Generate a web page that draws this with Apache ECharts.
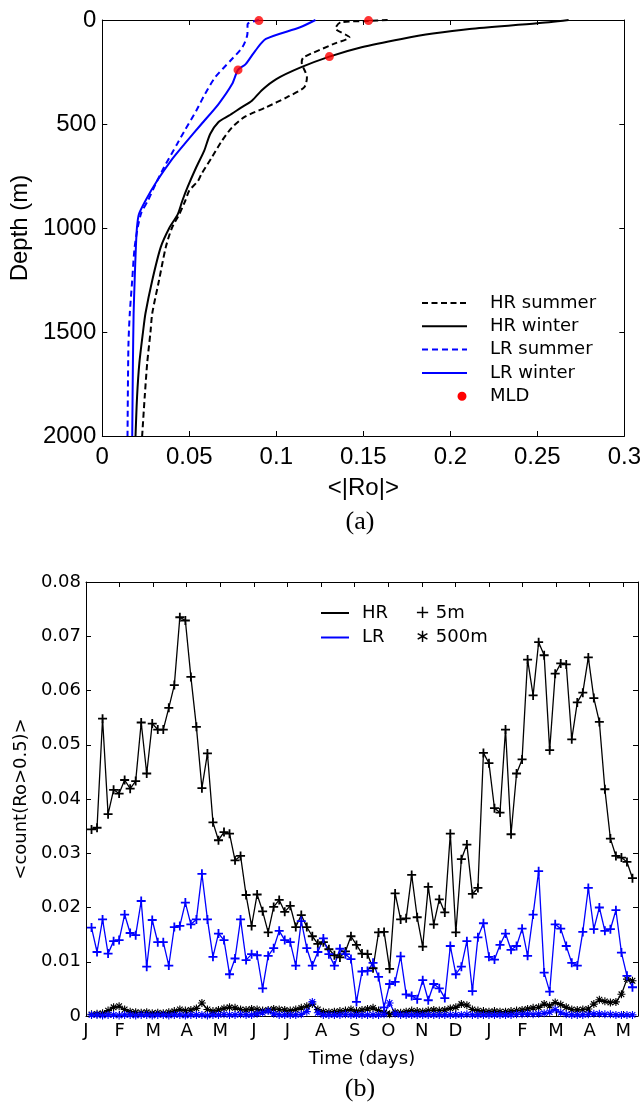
<!DOCTYPE html>
<html>
<head>
<meta charset="utf-8">
<script src="https://cdn.jsdelivr.net/npm/echarts@6/dist/echarts.min.js"></script>
<style>
  html, body { margin: 0; padding: 0; background: #fff; }
  #chart { width: 644px; height: 1112px; }
</style>
</head>
<body>
<div id="chart"></div>
<script>
// ---------- (a) vertical profiles of <|Ro|>: [Ro, depth (m)] ----------
const hrSummer = [[0.164,0],[0.153,5],[0.137,11],[0.134,40],[0.142,83],[0.133,115],[0.1156,180],[0.1146,203],[0.1176,276],[0.116,324],[0.106,372],[0.094,420],[0.082,465],[0.0746,516],[0.0688,580],[0.063,660],[0.057,740],[0.055,774],[0.05,820],[0.0477,869],[0.0443,933],[0.04,1000],[0.0365,1092],[0.0326,1252],[0.0287,1411],[0.0277,1500],[0.0258,1650],[0.0244,1809],[0.0229,2000]];
const hrWinter = [[0.268,0],[0.25,16],[0.211,43],[0.19,65],[0.172,91],[0.149,131],[0.1305,176],[0.114,228],[0.1,284],[0.092,335],[0.086,388],[0.08,420],[0.0727,460],[0.0668,490],[0.062,548],[0.0586,628],[0.054,708],[0.049,804],[0.046,869],[0.0434,933],[0.0385,1000],[0.0336,1092],[0.0287,1252],[0.0248,1411],[0.0234,1500],[0.0213,1650],[0.02,1809],[0.0191,2000]];
const lrSummer = [[0.09,0],[0.0835,20],[0.0834,67],[0.0805,131],[0.0736,196],[0.0648,276],[0.059,356],[0.054,436],[0.0473,532],[0.043,596],[0.0355,708],[0.0307,788],[0.0262,869],[0.0225,925],[0.0203,1000],[0.0185,1100],[0.0172,1250],[0.0158,1411],[0.015,1570],[0.0145,2000]];
const lrWinter = [[0.1225,0],[0.1137,35],[0.094,91],[0.088,147],[0.0824,212],[0.078,240],[0.0746,308],[0.0668,404],[0.057,500],[0.0473,596],[0.0395,676],[0.0316,772],[0.0248,869],[0.021,935],[0.0199,1000],[0.0193,1092],[0.0186,1252],[0.018,1411],[0.0176,1650],[0.0172,2000]];
const mixedLayerDepth = [[0.09,3],[0.153,3],[0.078,240],[0.1305,176]];

const roTicks = { min: 0, max: 0.3, interval: 0.05 };
const depthTicks = { min: 0, max: 2000, interval: 500 };

// ---------- (b) time series of <count(Ro>0.5)> ----------
const days = [5,10,15,20,25,30,35,40,45,50,55,60,65,70,75,80,85,90,95,100,105,110,115,120,125,130,135,140,145,150,155,160,165,170,175,180,185,190,195,200,205,210,215,220,225,230,235,240,245,250,255,260,265,270,275,280,285,290,295,300,305,310,315,320,325,330,335,340,345,350,355,360,365,370,375,380,385,390,395,400,405,410,415,420,425,430,435,440,445,450,455,460,465,470,475,480,485,490,495];
const hr5m = [0.0344,0.0347,0.0548,0.0372,0.0417,0.041,0.0435,0.0419,0.0433,0.0541,
  0.0447,0.0539,0.0528,0.0528,0.0568,0.061,0.0735,0.0729,0.0625,0.0533,
  0.042,0.0484,0.0357,0.0324,0.0339,0.0336,0.0287,0.0295,0.0223,0.0166,
  0.0224,0.0193,0.0154,0.0201,0.0214,0.0192,0.0203,0.0164,0.0186,0.0164,
  0.0147,0.0133,0.0136,0.0123,0.0112,0.0108,0.0119,0.0147,0.0131,0.0115,
  0.0114,0.0088,0.0154,0.0155,0.0087,0.0226,0.0178,0.018,0.026,0.0182,
  0.0128,0.0238,0.0169,0.0215,0.0191,0.0336,0.0154,0.0289,0.0316,0.0225,
  0.0236,0.0485,0.0466,0.0383,0.0375,0.0528,0.0335,0.0447,0.0473,0.0657,
  0.0591,0.0689,0.0665,0.049,0.0631,0.065,0.0648,0.051,0.0578,0.0596,
  0.0661,0.0586,0.0542,0.0418,0.0327,0.0295,0.0292,0.0284,0.0254];
const lr5m = [0.0163,0.0118,0.0178,0.0115,0.0138,0.014,0.0187,0.0153,0.0149,0.0212,
  0.0091,0.0177,0.0136,0.0136,0.0093,0.0164,0.0166,0.0209,0.0169,0.0178,
  0.0262,0.0178,0.0109,0.0152,0.014,0.0077,0.0106,0.0178,0.0103,0.0114,
  0.0112,0.0051,0.0111,0.0125,0.0157,0.014,0.0136,0.0093,0.0175,0.0125,
  0.0093,0.0118,0.0143,0.0114,0.0093,0.0124,0.0114,0.0105,0.0026,0.0082,
  0.0083,0.0098,0.0072,0.0016,0.0059,0.0063,0.011,0.004,0.0037,0.0031,
  0.0066,0.0029,0.0059,0.0051,0.0033,0.0129,0.0077,0.0091,0.0138,0.0046,
  0.0145,0.0171,0.0109,0.0104,0.0131,0.0152,0.0122,0.0129,0.0161,0.0111,
  0.0187,0.0267,0.008,0.0045,0.0169,0.0161,0.0129,0.0098,0.0093,0.0155,
  0.0236,0.016,0.02,0.0157,0.016,0.0195,0.0117,0.0074,0.0053];
const hr500m = [0.0003,0.0004,0.0005,0.001,0.0016,0.0018,0.0012,0.0008,0.0007,0.0006,
  0.0007,0.0005,0.0006,0.0005,0.0007,0.0009,0.0012,0.001,0.0011,0.0014,
  0.0024,0.0012,0.0009,0.0011,0.0014,0.0016,0.0015,0.0012,0.0011,0.0013,
  0.0012,0.001,0.0011,0.0013,0.0012,0.0011,0.001,0.0012,0.0015,0.0018,
  0.0022,0.0012,0.0008,0.0007,0.0008,0.0009,0.001,0.0012,0.0009,0.0011,
  0.0013,0.0015,0.001,0.0006,0.0003,0.0007,0.0006,0.0008,0.001,0.0009,
  0.0008,0.001,0.0011,0.001,0.0011,0.0014,0.0016,0.0022,0.002,0.0012,
  0.001,0.0009,0.0008,0.0009,0.0008,0.0008,0.0009,0.001,0.0011,0.0013,
  0.0015,0.0016,0.0022,0.0019,0.0025,0.0021,0.0016,0.0012,0.0011,0.0012,
  0.0013,0.0022,0.003,0.0027,0.0025,0.0026,0.004,0.0068,0.0065];
const lr500m = [0.0002,0.0002,0.0001,0.0002,0.0002,0.0001,0.0002,0.0002,0.0001,0.0002,
  0.0002,0.0001,0.0002,0.0002,0.0001,0.0002,0.0002,0.0001,0.0002,0.0002,
  0.0002,0.0001,0.0002,0.0002,0.0003,0.0002,0.0002,0.0003,0.0002,0.0002,
  0.0004,0.0006,0.0009,0.0004,0.0002,0.0002,0.0002,0.0002,0.0003,0.0008,
  0.0026,0.0006,0.0002,0.0002,0.0002,0.0002,0.0003,0.0002,0.0002,0.0002,
  0.0002,0.0002,0.0002,0.0003,0.0024,0.0004,0.0002,0.0002,0.0002,0.0002,
  0.0002,0.0002,0.0002,0.0002,0.0002,0.0002,0.0002,0.0002,0.0003,0.0002,
  0.0002,0.0002,0.0002,0.0002,0.0002,0.0002,0.0002,0.0003,0.0003,0.0004,
  0.0003,0.0004,0.0005,0.0007,0.0012,0.0006,0.0003,0.0002,0.0002,0.0002,
  0.0003,0.0004,0.0004,0.0003,0.0003,0.0002,0.0002,0.0002,0.0002];
const monthLabels = ['J','F','M','A','M','J','J','A','S','O','N','D','J','F','M','A','M'];
const countTicks = { min: 0, max: 0.08, interval: 0.01 };
const MONTH_DAYS = 365 / 12;

// ---------- styling ----------
const SANS = '"Liberation Sans", Arial, Helvetica, sans-serif';
const DEJAVU = '"DejaVu Sans", sans-serif';
const BLACK = '#000000', BLUE = '#0000ff', RED = '#ff0000';

const PLUS = 'path://M-1,-5L1,-5L1,-1L5,-1L5,1L1,1L1,5L-1,5L-1,1L-5,1L-5,-1L-1,-1Z';
const STAR = 'path://M-0.7,-5L0.7,-5L0.7,-0.7L5,-0.7L5,0.7L0.7,0.7L0.7,5L-0.7,5L-0.7,0.7L-5,0.7L-5,-0.7L-0.7,-0.7Z' +
             'M-4,-3L-3,-4L4,3L3,4Z M3,-4L4,-3L-3,4L-4,3Z';
// legend marker: a small dot at the right end of a 45x14 icon box (tiny corner specks fix the box)
const DOT_ICON = 'path://M0,0L0.01,0L0,0.01Z M45,14L44.99,14L45,13.99Z M35.5,7A4.5,4.5,0,1,1,44.5,7A4.5,4.5,0,1,1,35.5,7Z';

const frameLine = { show: true, onZero: false, lineStyle: { color: BLACK, width: 1 } };
const innerTick = { show: true, inside: true, length: 5, lineStyle: { color: BLACK, width: 1 } };
const plain = v => String(v);

function mirror(axis, extra) {
  return Object.assign({
    type: 'value', axisLine: frameLine, axisTick: innerTick,
    axisLabel: { show: false }, splitLine: { show: false }
  }, axis, extra);
}

const pairs = (xs, ys) => xs.map((x, i) => [x, ys[i]]);

const option = {
  animation: false,
  backgroundColor: '#ffffff',
  grid: [
    { left: 97, top: 20, width: 528, height: 416 },
    { left: 86, top: 582, width: 552, height: 434 }
  ],
  xAxis: [
    Object.assign({
      type: 'value', gridIndex: 0, position: 'bottom',
      axisLine: frameLine, axisTick: innerTick, splitLine: { show: false },
      axisLabel: { margin: 9, color: BLACK, fontFamily: SANS, fontSize: 24, formatter: plain },
      name: '<|Ro|>', nameLocation: 'middle', nameGap: 40,
      nameTextStyle: { color: BLACK, fontFamily: SANS, fontSize: 24 }
    }, roTicks),
    mirror(roTicks, { gridIndex: 0, position: 'top' }),
    {
      type: 'value', gridIndex: 1, position: 'bottom',
      min: 0, max: 500, interval: MONTH_DAYS,
      axisLine: frameLine, axisTick: innerTick, splitLine: { show: false },
      axisLabel: {
        margin: 6, color: BLACK, fontFamily: DEJAVU, fontSize: 18,
        formatter: function (v) {
          const k = v / MONTH_DAYS, r = Math.round(k);
          return Math.abs(k - r) < 1e-3 && r < monthLabels.length ? monthLabels[r] : '';
        }
      },
      name: 'Time (days)', nameLocation: 'middle', nameGap: 34,
      nameTextStyle: { color: BLACK, fontFamily: DEJAVU, fontSize: 18 }
    },
    mirror({ min: 0, max: 500, interval: MONTH_DAYS }, { gridIndex: 1, position: 'top' })
  ],
  yAxis: [
    Object.assign({
      type: 'value', gridIndex: 0, inverse: true, position: 'left',
      axisLine: frameLine, axisTick: innerTick, splitLine: { show: false },
      axisLabel: { margin: 6, color: BLACK, fontFamily: SANS, fontSize: 24, formatter: plain },
      name: 'Depth (m)', nameLocation: 'middle', nameGap: 64, nameRotate: 90,
      nameTextStyle: { color: BLACK, fontFamily: SANS, fontSize: 24 }
    }, depthTicks),
    mirror(depthTicks, { gridIndex: 0, position: 'right', inverse: true }),
    Object.assign({
      type: 'value', gridIndex: 1, position: 'left',
      axisLine: frameLine, axisTick: innerTick, splitLine: { show: false },
      axisLabel: { margin: 5, color: BLACK, fontFamily: DEJAVU, fontSize: 18, formatter: plain },
      name: '<count(Ro>0.5)>', nameLocation: 'middle', nameGap: 52, nameRotate: 90,
      nameTextStyle: { color: BLACK, fontFamily: DEJAVU, fontSize: 18 }
    }, countTicks),
    mirror(countTicks, { gridIndex: 1, position: 'right' })
  ],
  legend: [
    {
      orient: 'vertical', left: 421, top: 294, padding: 0,
      itemWidth: 45, itemHeight: 14, itemGap: 5.3,
      selectedMode: false,
      itemStyle: { opacity: 0 },
      data: [{ name: 'HR summer' }, { name: 'HR winter' }, { name: 'LR summer' }, { name: 'LR winter' },
             { name: 'MLD', icon: DOT_ICON, itemStyle: { opacity: 1, color: RED } }],
      textStyle: { color: BLACK, fontFamily: DEJAVU, fontSize: 18, padding: [0, 0, 0, 18] }
    },
    {
      orient: 'vertical', left: 321, top: 604, padding: 0,
      itemWidth: 28, itemHeight: 2, itemGap: 6.5,
      selectedMode: false,
      data: [{ name: 'HR', icon: 'rect' }, { name: 'LR', icon: 'rect' }],
      textStyle: { color: BLACK, fontFamily: DEJAVU, fontSize: 18, padding: [0, 0, 0, 8] }
    }
  ],
  graphic: [
    { type: 'text', left: 415, top: 604, style: { text: '+ 5m', font: '18px "DejaVu Sans"', fill: BLACK } },
    { type: 'text', left: 415, top: 628, style: { text: '\u2217 500m', font: '18px "DejaVu Sans"', fill: BLACK } },
    { type: 'text', x: 360, y: 522, style: { text: '(a)', font: '26px "Liberation Serif"', fill: BLACK, align: 'center', verticalAlign: 'middle' } },
    { type: 'text', x: 360, y: 1089, style: { text: '(b)', font: '26px "Liberation Serif"', fill: BLACK, align: 'center', verticalAlign: 'middle' } }
  ],
  series: [
    { name: 'HR summer', type: 'line', xAxisIndex: 0, yAxisIndex: 0, data: hrSummer, symbol: 'none', smooth: 0.25,
      color: BLACK, lineStyle: { color: BLACK, width: 2, type: [6, 3.5] } },
    { name: 'HR winter', type: 'line', xAxisIndex: 0, yAxisIndex: 0, data: hrWinter, symbol: 'none', smooth: 0.25,
      color: BLACK, lineStyle: { color: BLACK, width: 2 } },
    { name: 'LR summer', type: 'line', xAxisIndex: 0, yAxisIndex: 0, data: lrSummer, symbol: 'none', smooth: 0.25,
      color: BLUE, lineStyle: { color: BLUE, width: 2, type: [6, 4] } },
    { name: 'LR winter', type: 'line', xAxisIndex: 0, yAxisIndex: 0, data: lrWinter, symbol: 'none', smooth: 0.25,
      color: BLUE, lineStyle: { color: BLUE, width: 2 } },
    { name: 'MLD', type: 'scatter', xAxisIndex: 0, yAxisIndex: 0, data: mixedLayerDepth,
      symbol: 'circle', symbolSize: 9, itemStyle: { color: RED }, z: 5 },

    { name: 'HR', type: 'line', xAxisIndex: 2, yAxisIndex: 2, data: pairs(days, hr5m),
      symbol: PLUS, symbolSize: 9, color: BLACK, itemStyle: { color: BLACK },
      lineStyle: { color: BLACK, width: 1.3 } },
    { name: 'HR 500m', type: 'line', xAxisIndex: 2, yAxisIndex: 2, data: pairs(days, hr500m),
      symbol: STAR, symbolSize: 8, color: BLACK, itemStyle: { color: BLACK },
      lineStyle: { color: BLACK, width: 1.3 } },
    { name: 'LR', type: 'line', xAxisIndex: 2, yAxisIndex: 2, data: pairs(days, lr5m),
      symbol: PLUS, symbolSize: 9, color: BLUE, itemStyle: { color: BLUE },
      lineStyle: { color: BLUE, width: 1.3 } },
    { name: 'LR 500m', type: 'line', xAxisIndex: 2, yAxisIndex: 2, data: pairs(days, lr500m),
      symbol: STAR, symbolSize: 8, color: BLUE, itemStyle: { color: BLUE },
      lineStyle: { color: BLUE, width: 1.3 } }
  ]
};

const chart = echarts.init(document.getElementById('chart'), null, { renderer: 'canvas' });
chart.setOption(option);
</script>
</body>
</html>
